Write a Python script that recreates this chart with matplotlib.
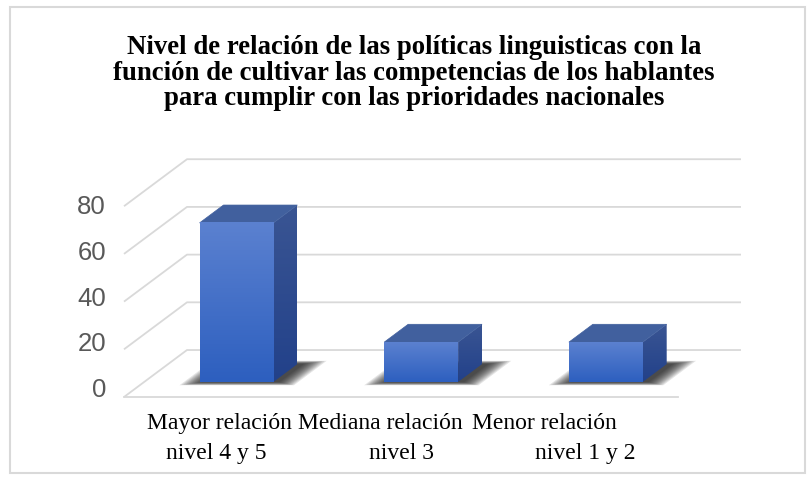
import numpy as np
import matplotlib.pyplot as plt
from matplotlib.patches import Polygon, Rectangle
from matplotlib.colors import LinearSegmentedColormap
from matplotlib.transforms import offset_copy

# data
labels_top = ["Mayor relación", "Mediana relación", "Menor relación"]
labels_bottom = ["nivel 4 y 5", "nivel 3", "nivel 1 y 2"]
values = [66.7, 16.7, 16.7]
y_ticks = [0, 20, 40, 60, 80]
title = ("Nivel de relación de las políticas linguisticas con la\n"
         "función de cultivar las competencias de los hablantes\n"
         "para cumplir con las prioridades nacionales")

# oblique projection used to fake the Excel 3D look:
# point (x, v, d) with d = depth in [0, 1] (0 = front, 1 = back wall)
DEPTH_X = 0.341
DEPTH_Y = 19.7
BAR_W = 0.40
BAR_D0, BAR_D1 = 0.32, 0.70

GRID = "#d9d9d9"
front_cmap = LinearSegmentedColormap.from_list("front", ["#2d5fbf", "#5b81d0"])
side_cmap = LinearSegmentedColormap.from_list("side", ["#22418a", "#3a5593"])
TOP_COLOR = "#41609e"


def proj(x, v, d):
    return x + DEPTH_X * d, v + DEPTH_Y * d


fig = plt.figure(figsize=(8.1, 4.8), dpi=100)
ax = fig.add_axes([0, 0, 1, 1])
xlim = (-1.1715, 3.2147)
ylim = (-34.8, 166.46)
ax.axis("off")

# walls and floor grid
for v in y_ticks:
    pts = [proj(-0.5, v, 0), proj(-0.5, v, 1), proj(2.5, v, 1)]
    ax.plot([p[0] for p in pts], [p[1] for p in pts], color=GRID, lw=1.3,
            zorder=1, solid_capstyle="butt")
f0, f1 = proj(-0.5, 0, 0), proj(2.5, 0, 0)
ax.plot([f0[0], f1[0]], [f0[1], f1[1]], color=GRID, lw=1.3, zorder=1)

grad = np.linspace(0, 1, 256).reshape(-1, 1)

for i, v in enumerate(values):
    xl, xr = i - BAR_W / 2, i + BAR_W / 2

    # soft shadow on the floor, a few stacked translucent footprints
    for k in range(12):
        ex = 0.11 * (1 - k / 12)
        ed = 0.07 * (1 - k / 12)
        shadow = [proj(xl - ex + 0.025, 0, BAR_D0 - ed),
                  proj(xr + ex + 0.025, 0, BAR_D0 - ed),
                  proj(xr + ex + 0.025, 0, BAR_D1 + ed),
                  proj(xl - ex + 0.025, 0, BAR_D1 + ed)]
        ax.add_patch(Polygon(shadow, closed=True, facecolor="#141414",
                             edgecolor="none", alpha=0.11, zorder=2))

    # side face
    side = [proj(xr, 0, BAR_D0), proj(xr, 0, BAR_D1),
            proj(xr, v, BAR_D1), proj(xr, v, BAR_D0)]
    side_patch = Polygon(side, closed=True, facecolor="none", edgecolor="none")
    ax.add_patch(side_patch)
    sx = [p[0] for p in side]
    sy = [p[1] for p in side]
    im = ax.imshow(grad, extent=(min(sx), max(sx), min(sy), max(sy)),
                   origin="lower", cmap=side_cmap, aspect="auto", zorder=3)
    im.set_clip_path(side_patch)

    # top face
    top = [proj(xl, v, BAR_D0), proj(xr, v, BAR_D0),
           proj(xr, v, BAR_D1), proj(xl, v, BAR_D1)]
    ax.add_patch(Polygon(top, closed=True, facecolor=TOP_COLOR,
                         edgecolor=TOP_COLOR, lw=0.5, zorder=3))

    # front face with vertical gradient
    x0, y0 = proj(xl, 0, BAR_D0)
    x1, y1 = proj(xr, v, BAR_D0)
    ax.imshow(grad, extent=(x0, x1, y0, y1), origin="lower", cmap=front_cmap,
              aspect="auto", zorder=4)

ax.set_xlim(*xlim)
ax.set_ylim(*ylim)

# value axis labels (Excel puts them on a slightly compressed scale)
tick_tr = offset_copy(ax.transData, fig=fig, x=-18, y=0, units="dots")
for v in y_ticks:
    x, _ = proj(-0.5, v, 0)
    ax.text(x, 2.935 + 0.959 * v, str(v), transform=tick_tr, ha="right",
            va="center", fontsize=18.5, family="Liberation Sans", color="#595959")

# category labels, two lines each
label_shift = [3, -21, -41]
for i in range(len(values)):
    tr = offset_copy(ax.transData, fig=fig, x=label_shift[i], y=0, units="dots")
    ax.text(i, -11.0, labels_top[i], transform=tr, ha="center", va="center",
            fontsize=17, family="Liberation Serif", color="black")
    ax.text(i, -23.5, labels_bottom[i], ha="center", va="center",
            fontsize=17, family="Liberation Serif", color="black")

fig.text(0.511, 1 - 73 / 480, title, ha="center", va="center", fontsize=19.3,
         fontweight="bold", family="Liberation Serif", linespacing=1.05)

# chart frame
fig.patches.append(Rectangle((10 / 810, 7 / 480), 795 / 810, 466 / 480,
                             transform=fig.transFigure, fill=False,
                             edgecolor=GRID, lw=1.5))

fig.savefig("out.png", dpi=100)
